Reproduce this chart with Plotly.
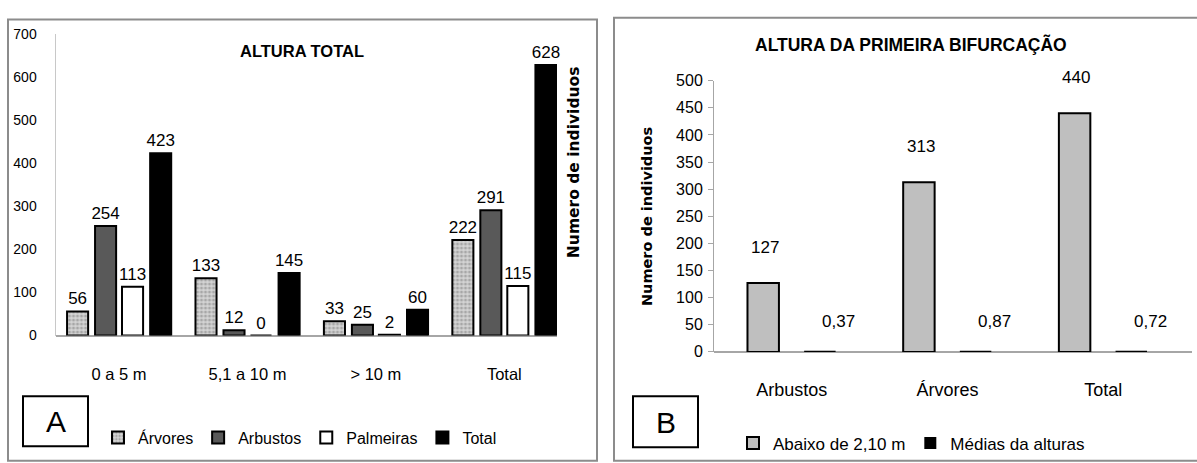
import plotly.graph_objects as go

# Painel A - altura total, por classe de altura
faixas = ["0 a 5 m", "5,1 a 10 m", "> 10 m", "Total"]
arvores = [56, 133, 33, 222]
arbustos = [254, 12, 25, 291]
palmeiras = [113, 0, 2, 115]
total = [423, 145, 60, 628]

# Painel B - altura da primeira bifurcação
grupos = ["Arbustos", "Árvores", "Total"]
abaixo_210 = [127, 313, 440]
medias_alturas = [0.37, 0.87, 0.72]

W, H = 1197, 463
SANS = "Liberation Sans, Arial, sans-serif"
BOLDT = "DejaVu Sans, Verdana, sans-serif"


def px(x):
    return x / W


def py(y):
    return 1 - y / H


fig = go.Figure()

# ---- painel A ----
serie_a = [
    ("Árvores", arvores, dict(color="#c9c9c9",
                               pattern=dict(shape=".", fgcolor="#7a7a7a", bgcolor="#d4d4d4",
                                            size=4, solidity=0.45)), -0.405),
    ("Arbustos", arbustos, dict(color="#595959"), -0.187),
    ("Palmeiras", palmeiras, dict(color="#ffffff"), 0.023),
    ("Total", total, dict(color="#000000"), 0.242),
]
for nome, vals, mk, off in serie_a:
    mk = dict(mk)
    mk["line"] = dict(color="#000000", width=2)
    fig.add_trace(go.Bar(
        x=faixas, y=vals, name=nome, marker=mk,
        width=0.164, offset=off,
        text=[str(v) for v in vals], textposition="outside",
        textfont=dict(family=SANS, size=17, color="#000"),
        constraintext="none", cliponaxis=False,
        xaxis="x", yaxis="y", legend="legend",
    ))

# ---- painel B ----
fig.add_trace(go.Bar(
    x=grupos, y=abaixo_210, name="Abaixo de 2,10 m",
    marker=dict(color="#bfbfbf", line=dict(color="#000", width=2)),
    width=0.202, offset=-0.285,
    xaxis="x2", yaxis="y2", legend="legend2",
))
fig.add_trace(go.Bar(
    x=grupos, y=medias_alturas, name="Médias da alturas",
    marker=dict(color="#000000", line=dict(color="#000", width=0)),
    width=0.202, offset=0.079,
    xaxis="x2", yaxis="y2", legend="legend2",
))

annotations = []
for g, v in zip(grupos, abaixo_210):
    annotations.append(dict(x=g, y=v, xref="x2", yref="y2", text=str(v), showarrow=False,
                            xanchor="center", yanchor="middle",
                            xshift=-27, yshift=36,
                            font=dict(family=SANS, size=17, color="#000")))
for g, v in zip(grupos, medias_alturas):
    annotations.append(dict(x=g, y=v, xref="x2", yref="y2",
                            text=f"{v:.2f}".replace(".", ","), showarrow=False,
                            xanchor="center", yanchor="middle",
                            xshift=47, yshift=30,
                            font=dict(family=SANS, size=17, color="#000")))


def texto(x, y, t, size, family=SANS, angle=0):
    return dict(x=px(x), y=py(y), xref="paper", yref="paper", text=t, showarrow=False,
                xanchor="center", yanchor="middle", textangle=angle,
                font=dict(family=family, size=size, color="#000"))


# títulos, rótulos de eixo e letras dos painéis
annotations += [
    texto(302, 45, "<b>ALTURA TOTAL</b>", 16.5),
    texto(911, 38, "<b>ALTURA DA PRIMEIRA BIFURCAÇÃO</b>", 17.5),
    texto(574, 160, "<b>Numero de individuos</b>", 15.5, BOLDT, -90),
    texto(647, 217, "<b>Numero de individuos</b>", 14.5, BOLDT, -90),
    texto(55.5, 429, "A", 30),
    texto(665.5, 430, "B", 30),
]

shapes = [
    # molduras dos painéis
    dict(type="rect", xref="paper", yref="paper", x0=px(8), x1=px(597), y0=py(470), y1=py(12),
         line=dict(color="#8c8c8c", width=2)),
    dict(type="rect", xref="paper", yref="paper", x0=px(614), x1=px(1205), y0=py(470), y1=py(10),
         line=dict(color="#8c8c8c", width=2)),
    # caixas das letras
    dict(type="rect", xref="paper", yref="paper", x0=px(23), x1=px(88), y0=py(455), y1=py(403),
         line=dict(color="#000", width=2)),
    dict(type="rect", xref="paper", yref="paper", x0=px(633), x1=px(698), y0=py(456), y1=py(403),
         line=dict(color="#000", width=2)),
]

fig.update_layout(
    width=W, height=H,
    margin=dict(l=0, r=0, t=0, b=0),
    paper_bgcolor="#fff", plot_bgcolor="#fff",
    barmode="overlay",
    showlegend=True,
    annotations=annotations,
    shapes=shapes,
    xaxis=dict(domain=[px(55.5), px(557)], range=[-0.495, 3.41], type="category",
               anchor="y", showgrid=False, showline=False, zeroline=False, ticks="",
               tickfont=dict(family=SANS, size=16.5, color="#000"),
               ticklabelstandoff=27, fixedrange=True),
    yaxis=dict(domain=[py(340), py(27)], range=[0, 700], tickvals=list(range(0, 701, 100)),
               anchor="x", showgrid=False, showline=True, linecolor="#c8c8c8", linewidth=1,
               zeroline=True, zerolinecolor="#a6a6a6", zerolinewidth=1.5,
               ticks="", tickfont=dict(family=SANS, size=14, color="#000"),
               ticklabelstandoff=15, fixedrange=True),
    xaxis2=dict(domain=[px(714), px(1192)], range=[-0.5, 2.57], type="category",
                anchor="y2", showgrid=False, showline=False, zeroline=False, ticks="",
                tickfont=dict(family=SANS, size=18, color="#000"),
                ticklabelstandoff=25, fixedrange=True),
    yaxis2=dict(domain=[py(357), py(75.5)], range=[0, 500], tickvals=list(range(0, 501, 50)),
                anchor="x2", showgrid=False, showline=True, linecolor="#a6a6a6", linewidth=1,
                zeroline=True, zerolinecolor="#a6a6a6", zerolinewidth=1.5,
                ticks="outside", ticklen=5, tickcolor="#a6a6a6",
                tickfont=dict(family=SANS, size=16, color="#000"),
                ticklabelstandoff=2, fixedrange=True),
    legend=dict(orientation="h", x=px(98), y=py(446), xanchor="left", yanchor="middle",
                font=dict(family=SANS, size=16, color="#000"), bgcolor="rgba(0,0,0,0)",
                itemwidth=30, tracegroupgap=0),
    legend2=dict(orientation="h", x=px(733), y=py(452), xanchor="left", yanchor="middle",
                 font=dict(family=SANS, size=17, color="#000"), bgcolor="rgba(0,0,0,0)",
                 itemwidth=30),
)

fig.write_html("out.html")
